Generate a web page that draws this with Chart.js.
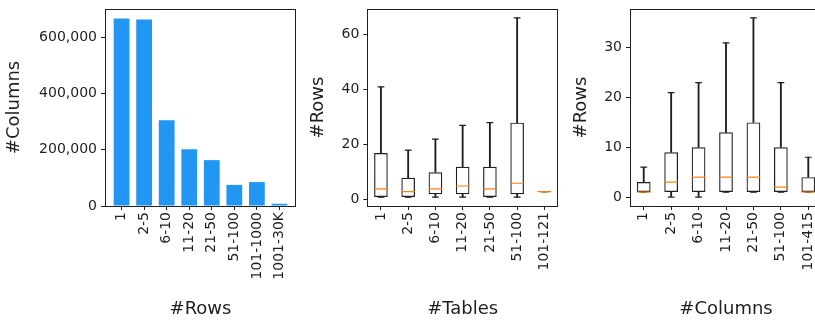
<!DOCTYPE html>
<html lang="en">
<head>
<meta charset="UTF-8">
<title>Rows, tables and columns</title>
<script src="https://cdn.jsdelivr.net/npm/chart.js"></script>
<style>
    html, body {
        margin: 0;
        padding: 0;
        background: #fff;
        overflow: hidden;
        width: 815px;
        height: 322px;
    }
    canvas { position: absolute; top: 0; }
    #barChart { left: 0; }
    #tablesChart { left: 300px; }
    #columnsChart { left: 560px; }
</style>
</head>
<body>
<canvas id="barChart" width="300" height="322"></canvas>
<canvas id="tablesChart" width="258" height="322"></canvas>
<canvas id="columnsChart" width="262" height="322"></canvas>

<script>
// left: #columns per rows bucket
const rowBins = ['1', '2-5', '6-10', '11-20', '21-50', '51-100', '101-1000', '1001-30K'];
const columnCounts = [666000, 663000, 305000, 202000, 163000, 75000, 85000, 8000];
const countTicks = [0, 200000, 400000, 600000];

// middle: #rows per #tables bucket (box plot stats)
const tableBins = ['1', '2-5', '6-10', '11-20', '21-50', '51-100', '101-121'];
const tableLow = [1, 1, 1, 1, 1, 1, 3];
const tableQ1 = [1, 1, 2, 2, 1, 2, 3];
const tableMedian = [4, 3, 4, 5, 4, 6, 3];
const tableQ3 = [17, 8, 10, 12, 12, 28, 3];
const tableHigh = [41, 18, 22, 27, 28, 66, 3];
const tableTicks = [0, 20, 40, 60];

// right: #rows per #columns bucket
const columnBins = ['1', '2-5', '6-10', '11-20', '21-50', '51-100', '101-415'];
const colLow = [1, 0, 0, 1, 1, 1, 1];
const colQ1 = [1, 1, 1, 1, 1, 1, 1];
const colMedian = [1, 3, 4, 4, 4, 2, 1];
const colQ3 = [3, 9, 10, 13, 15, 10, 4];
const colHigh = [6, 21, 23, 31, 36, 23, 8];
const colTicks = [0, 10, 20, 30];

const ink = '#1f1f1f';
const tickFont = { family: 'DejaVu Sans', size: 14 };
const titleFont = { family: 'DejaVu Sans', size: 18 };

// draw the full frame around the plot area like matplotlib spines
const frame = {
    id: 'frame',
    afterDatasetsDraw(chart) {
        const a = chart.chartArea;
        const ctx = chart.ctx;
        ctx.save();
        ctx.strokeStyle = ink;
        ctx.lineWidth = 1;
        ctx.strokeRect(Math.round(a.left) + 0.5, Math.round(a.top) + 0.5,
            Math.round(a.right - a.left) - 1, Math.round(a.bottom - a.top));
        ctx.restore();
    }
};

function xAxis(title, extra) {
    return Object.assign({
        offset: true,
        border: { display: false },
        grid: { display: true, drawOnChartArea: false, drawTicks: true, tickLength: 4, color: ink, offset: false },
        ticks: { color: ink, font: tickFont, minRotation: 90, maxRotation: 90, autoSkip: false, padding: 2 },
        title: { display: true, text: title, color: ink, font: titleFont, padding: { top: 0, bottom: 2 } },
        afterFit(scale) {
            scale.height = 116;
            scale.paddingLeft = 0;
            scale.paddingRight = 0;
        }
    }, extra);
}

function yAxis(title, width, titlePad, tickValues, extra) {
    return Object.assign({
        border: { display: false },
        grid: { display: true, drawOnChartArea: false, drawTicks: true, tickLength: 4, color: ink },
        ticks: { color: ink, font: tickFont, padding: 4 },
        title: { display: true, text: title, color: ink, font: titleFont, padding: { top: titlePad, bottom: 0 } },
        afterBuildTicks(scale) { scale.ticks = tickValues.map(v => ({ value: v })); },
        afterFit(scale) {
            scale.width = width;
            scale.paddingTop = 0;
            scale.paddingBottom = 0;
        }
    }, extra);
}

new Chart(document.getElementById('barChart'), {
    type: 'bar',
    data: {
        datasets: [{
            data: columnCounts.map((v, i) => ({ x: i, y: v })),
            backgroundColor: '#2196f3',
            categoryPercentage: 1,
            barPercentage: 0.7
        }]
    },
    options: {
        responsive: false,
        animation: false,
        events: [],
        layout: { autoPadding: false, padding: { top: 9, right: 4, left: 0, bottom: 0 } },
        plugins: { legend: { display: false }, tooltip: { enabled: false } },
        scales: {
            x: xAxis('#Rows', {
                type: 'linear',
                offset: false,
                min: -0.735,
                max: rowBins.length - 1 + 0.735,
                afterBuildTicks(scale) { scale.ticks = rowBins.map((_, i) => ({ value: i })); },
                ticks: { color: ink, font: tickFont, minRotation: 90, maxRotation: 90, autoSkip: false, padding: 2,
                    callback: v => rowBins[v] }
            }),
            y: yAxis('#Columns', 105, 4, countTicks, {
                min: 0,
                max: 700000,
                ticks: { color: ink, font: tickFont, padding: 4, callback: v => v.toLocaleString('en-US') }
            })
        }
    },
    plugins: [frame]
});

function boxChart(id, labels, low, q1, med, q3, high, xTitle, yWidth, yTitlePad, yMin, yMax, tickValues) {
    const cap = { type: 'line', showLine: false, pointStyle: 'line', pointRadius: 3.4,
        pointBorderWidth: 1.2, pointBorderColor: ink, order: 1 };
    const whisker = { backgroundColor: ink, barThickness: 1.2, grouped: false, order: 2 };
    return new Chart(document.getElementById(id), {
        type: 'bar',
        data: {
            labels: labels,
            datasets: [
                Object.assign({ data: low.map((v, i) => [v, q1[i]]) }, whisker),
                Object.assign({ data: q3.map((v, i) => [v, high[i]]) }, whisker),
                {
                    data: q1.map((v, i) => [v, q3[i]]),
                    backgroundColor: 'rgba(0,0,0,0)',
                    borderColor: ink,
                    borderWidth: 1.2,
                    borderSkipped: false,
                    categoryPercentage: 1,
                    barPercentage: 0.5,
                    grouped: false,
                    order: 1
                },
                Object.assign({ data: low }, cap),
                Object.assign({ data: high }, cap),
                { type: 'line', data: med, showLine: false, pointStyle: 'line', pointRadius: 6.8,
                    pointBorderWidth: 1.2, pointBorderColor: '#ff7f0e', order: 0 }
            ]
        },
        options: {
            responsive: false,
            animation: false,
            events: [],
            layout: { autoPadding: false, padding: { top: 9, right: 0, left: 0, bottom: 0 } },
            plugins: { legend: { display: false }, tooltip: { enabled: false } },
            scales: {
                x: xAxis(xTitle),
                y: yAxis('#Rows', yWidth, yTitlePad, tickValues, { min: yMin, max: yMax })
            }
        },
        plugins: [frame]
    });
}

boxChart('tablesChart', tableBins, tableLow, tableQ1, tableMedian, tableQ3, tableHigh,
    '#Tables', 67.3, 8, -2.25, 69.25, tableTicks);
boxChart('columnsChart', columnBins, colLow, colQ1, colMedian, colQ3, colHigh,
    '#Columns', 70, 11, -1.8, 37.8, colTicks);
</script>
</body>
</html>
